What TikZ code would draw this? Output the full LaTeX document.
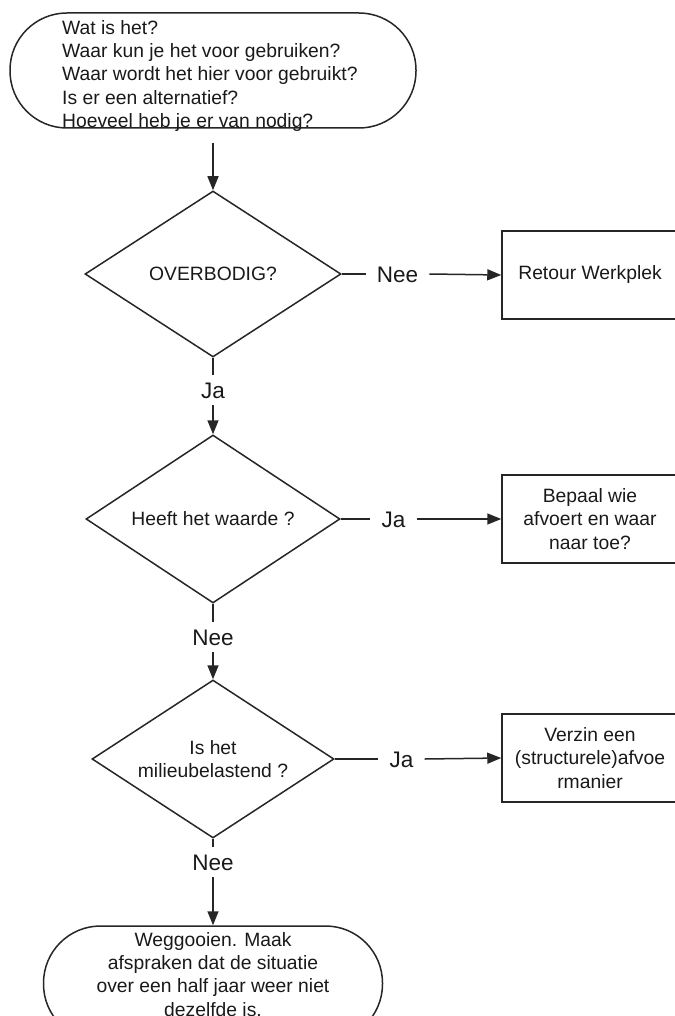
\documentclass[tikz,border=0pt]{standalone}
\usepackage{fontspec}
\setmainfont{Liberation Sans}
\usetikzlibrary{shapes.geometric,arrows.meta}
\begin{document}
\begin{tikzpicture}[x=1pt,y=-1pt,
  every node/.style={font=\fontsize{19.3pt}{23.4pt}\selectfont, text=black!90},
  line/.style={draw=black!85, line width=1.5pt},
  arr/.style={line, -{Triangle[length=14pt,width=11pt]}},
  term/.style={line, rectangle, rounded corners=57pt, inner sep=0pt},
  decision/.style={line, diamond, aspect=1.5, inner sep=0pt, align=center},
  outbox/.style={line, rectangle, minimum width=176pt, minimum height=88pt, align=center, inner sep=0pt},
  lbl/.style={font=\fontsize{22.5pt}{26pt}\selectfont, inner xsep=11pt, inner ysep=7pt, text height=16pt, text depth=0pt}]

\useasboundingbox (0,0) rectangle (674,1016);

% start terminal
\node[term, minimum width=406pt, minimum height=115pt] (start) at (213,70.5) {};
\node[anchor=north west, align=left, inner sep=0pt] (starttext) at (62,20) {Wat is het?\\Waar kun je het voor gebruiken?\\Waar wordt het hier voor gebruikt?\\Is er een alternatief?\\Hoeveel heb je er van nodig?};

% decisions
\node[decision, minimum width=256pt, minimum height=166pt] (d1) at (213,274) {OVERBODIG?};
\node[decision, minimum width=254pt, minimum height=168pt] (d2) at (213,519) {Heeft het waarde ?};
\node[decision, minimum width=242pt, minimum height=158pt] (d3) at (213,759) {Is het\\milieubelastend ?};

% outcome boxes
\node[outbox] (b1) at (590,275) {Retour Werkplek};
\node[outbox] (b2) at (590,519) {Bepaal wie\\afvoert en waar\\naar toe?};
\node[outbox] (b3) at (590,758) {Verzin een\\(structurele)afvoe\\rmanier};

% labels
\node[lbl] (l1) at (397.5,274) {Nee};
\node[lbl] (l2) at (393.5,519) {Ja};
\node[lbl] (l3) at (401.5,759) {Ja};
\node[lbl] (v1) at (213,390) {Ja};
\node[lbl] (v2) at (213,637) {Nee};
\node[lbl] (v3) at (213,862) {Nee};

% end terminal
\node[term, minimum width=339pt, minimum height=115pt] (end) at (213,983.5) {};
\node[anchor=north, align=center, inner sep=0pt] (endtext) at (213,932) {Weggooien. Maak\\afspraken dat de situatie\\over een half jaar weer niet\\dezelfde is.};

% connectors
\draw[arr, shorten <=14pt] (start.south) -- (d1.north);
\draw[line] (d1.south) -- (v1.north);
\draw[arr] (v1.south) -- (d2.north);
\draw[line] (d2.south) -- (v2.north);
\draw[arr] (v2.south) -- (d3.north);
\draw[line] (d3.south) -- (v3.north);
\draw[arr] (v3.south) -- (end.north);

\draw[line] (d1.east) -- (l1.west);
\draw[arr] (l1.east) -- (b1.west);
\draw[line] (d2.east) -- (l2.west);
\draw[arr] (l2.east) -- (b2.west);
\draw[line] (d3.east) -- (l3.west);
\draw[arr] (l3.east) -- (b3.west);
\end{tikzpicture}
\end{document}
